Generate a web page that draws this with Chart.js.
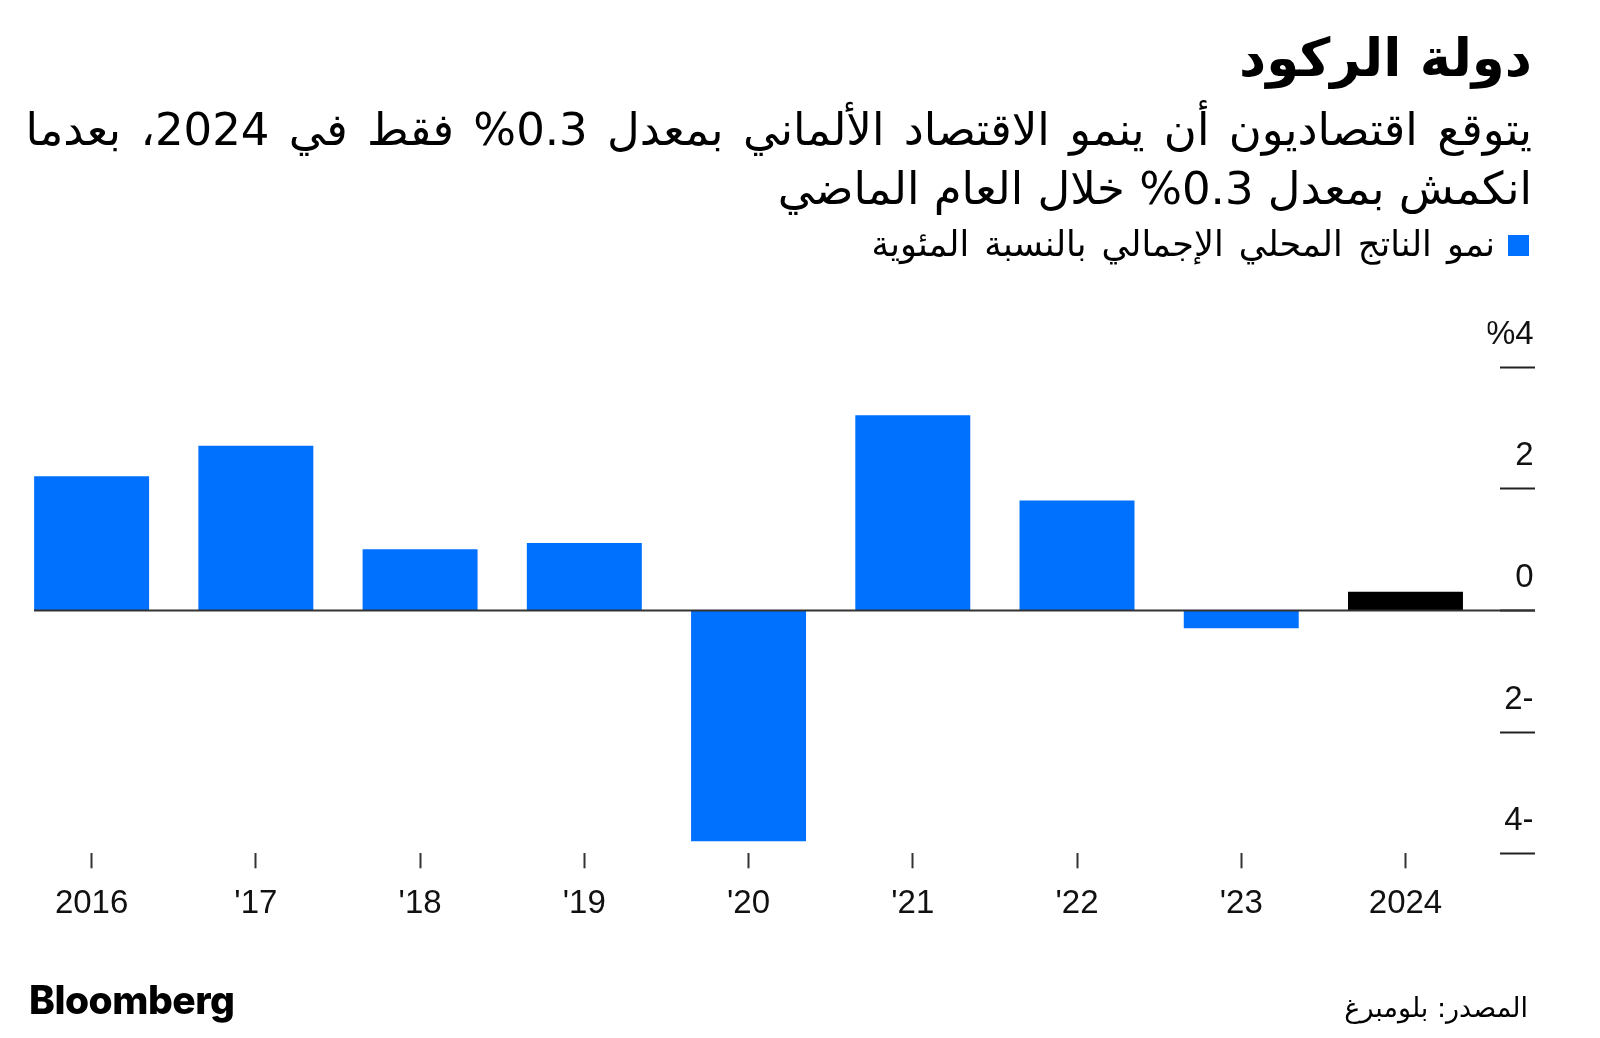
<!DOCTYPE html>
<html lang="ar">
<head>
<meta charset="utf-8">
<title>دولة الركود</title>
<script src="https://cdn.jsdelivr.net/npm/chart.js@4.4.1/dist/chart.umd.min.js"></script>
<style>
  html, body { margin: 0; padding: 0; background: #fff; }
  body { width: 1600px; height: 1038px; position: relative; overflow: hidden; }
  #chartBox { position: absolute; left: 0; top: 0; width: 1600px; height: 1038px; }
  .txt { position: absolute; direction: rtl; text-align: right; white-space: nowrap; color: #000;
         font-family: 'DejaVu Sans', 'Noto Sans', sans-serif; line-height: 1; }
  #title { right: 68px; top: 31px; font-size: 53px; font-weight: bold; }
  .sub { right: 68px; font-size: 45px; }
  #sub1 { top: 107px; word-spacing: 5px; }
  #sub2 { top: 166px; }
  #legend { right: 105px; top: 227px; font-size: 35px; word-spacing: 4px; }
  #legendBox { position: absolute; left: 1508px; top: 235px; width: 21px; height: 21px; background: #0070ff; }
  #source { right: 72px; top: 994px; font-size: 27px; }
  #brand { position: absolute; left: 29px; top: 980px; font-family: Inter, 'Liberation Sans', sans-serif;
           font-weight: 800; font-size: 39px; line-height: 1; letter-spacing: -0.5px; }
</style>
</head>
<body>
<div id="chartBox"><canvas id="gdpChart"></canvas></div>
<div id="title" class="txt">دولة الركود</div>
<div id="sub1" class="txt sub">يتوقع اقتصاديون أن ينمو الاقتصاد الألماني بمعدل 0.3% فقط في 2024، بعدما</div>
<div id="sub2" class="txt sub">انكمش بمعدل 0.3% خلال العام الماضي</div>
<div id="legendBox"></div>
<div id="legend" class="txt">نمو الناتج المحلي الإجمالي بالنسبة المئوية</div>
<div id="brand">Bloomberg</div>
<div id="source" class="txt">المصدر: بلومبرغ</div>

<script>
// German GDP growth, % (2024 = forecast)
const years = ['2016', "'17", "'18", "'19", "'20", "'21", "'22", "'23", '2024'];
const growth = [2.2, 2.7, 1.0, 1.1, -3.8, 3.2, 1.8, -0.3, 0.3];
const barColors = ['#0070ff', '#0070ff', '#0070ff', '#0070ff', '#0070ff', '#0070ff', '#0070ff', '#0070ff', '#000000'];

// y axis ticks, labels written the way the Arabic chart shows them
const yTicks = [-4, -2, 0, 2, 4];
const yTickLabels = ['4-', '2-', '0', '2', '%4'];

const axisFont = { family: "'Liberation Sans', Arial, sans-serif", size: 33 };

// short dashes under each y label + the zero baseline
const axisMarks = {
  id: 'axisMarks',
  afterDatasetsDraw(chart) {
    const { ctx, chartArea, scales } = chart;
    const y = scales.y;
    ctx.save();
    ctx.strokeStyle = '#222';
    ctx.lineWidth = 2;
    yTicks.forEach((v) => {
      const py = Math.round(y.getPixelForValue(v)) + 0.5;
      ctx.beginPath();
      ctx.moveTo(1500, py);
      ctx.lineTo(1535, py);
      ctx.stroke();
    });
    const zy = Math.round(y.getPixelForValue(0)) + 0.5;
    ctx.strokeStyle = '#333';
    ctx.beginPath();
    ctx.moveTo(chartArea.left + 24.5, zy);
    ctx.lineTo(1535, zy);
    ctx.stroke();
    ctx.restore();
  },
};

const ctx = document.getElementById('gdpChart').getContext('2d');

new Chart(ctx, {
  type: 'bar',
  data: {
    labels: years,
    datasets: [
      {
        label: 'نمو الناتج المحلي الإجمالي بالنسبة المئوية',
        data: growth,
        backgroundColor: barColors,
        borderWidth: 0,
        barPercentage: 0.7,
        categoryPercentage: 1,
      },
    ],
  },
  options: {
    responsive: true,
    maintainAspectRatio: false,
    animation: false,
    layout: {
      padding: { top: 366.7, left: 9.5, right: 66.4, bottom: 104.7 },
    },
    plugins: {
      legend: { display: false },
      tooltip: { enabled: false },
    },
    scales: {
      x: {
        offset: true,
        border: { display: false },
        grid: {
          offset: false,
          drawOnChartArea: false,
          drawTicks: true,
          tickLength: 15,
          tickWidth: 2,
          tickColor: '#333',
        },
        ticks: {
          color: '#111',
          font: axisFont,
          padding: 16,
          maxRotation: 0,
          autoSkip: false,
        },
        afterFit: (scale) => {
          scale.height = 80;
        },
      },
      y: {
        position: 'right',
        min: -4,
        max: 4,
        border: { display: false },
        grid: { display: false, drawTicks: false },
        ticks: {
          stepSize: 2,
          color: '#111',
          font: axisFont,
          crossAlign: 'far',
          labelOffset: -32,
          callback: function (value) {
            const i = yTicks.indexOf(value);
            return i >= 0 ? yTickLabels[i] : '';
          },
        },
        afterFit: (scale) => {
          scale.width = 46;
        },
      },
    },
  },
  plugins: [axisMarks],
});
</script>
</body>
</html>
